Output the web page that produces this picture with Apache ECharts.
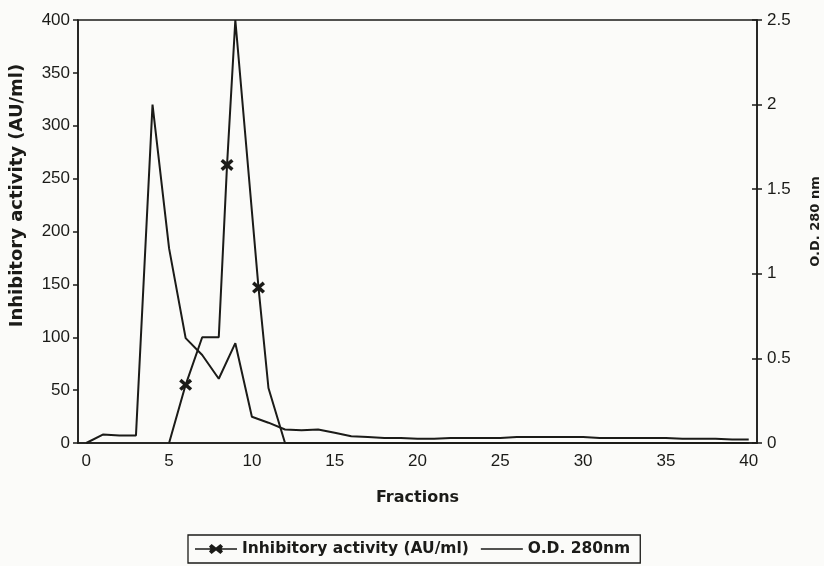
<!DOCTYPE html>
<html>
<head>
<meta charset="utf-8">
<script src="https://cdn.jsdelivr.net/npm/echarts@6/dist/echarts.min.js"></script>
<style>
html,body{margin:0;padding:0;background:#fbfbf9;overflow:hidden;}
#chart{width:824px;height:566px;}
</style>
</head>
<body>
<div id="chart"></div>
<script>
// X-axis categories (fractions)
var fractionLabels = ['0','1','2','3','4','5','6','7','8','9','10','11','12','13','14','15','16','17','18','19','20',
  '21','22','23','24','25','26','27','28','29','30','31','32','33','34','35','36','37','38','39','40'];
// O.D. 280 nm, one value per fraction 0..40
var odValues = [0, 0.05, 0.045, 0.045, 2.0, 1.15, 0.62, 0.52, 0.38, 0.59, 0.155, 0.12, 0.08, 0.075, 0.08, 0.06, 0.04,
  0.035, 0.03, 0.03, 0.025, 0.025, 0.03, 0.03, 0.03, 0.03, 0.035, 0.035, 0.035, 0.035, 0.035,
  0.03, 0.03, 0.03, 0.03, 0.03, 0.025, 0.025, 0.025, 0.02, 0.02];
// Inhibitory activity (AU/ml)
var inhibFractions = [5, 6, 7, 8, 8.5, 9, 10.4, 11, 12, 40];
var inhibValues    = [0, 55, 100, 100, 263, 400, 147, 52, 0, 0];
var inhibMarkerFractions = [6, 8.5, 10.4];
// Axis ticks
var leftTicks = {min: 0, max: 400, interval: 50};
var rightTicks = {min: 0, max: 2.5, interval: 0.5};

var odData = odValues.map(function (v, i) { return [Number(fractionLabels[i]), v]; });
var inhibData = inhibValues.map(function (v, i) { return [inhibFractions[i], v]; });

var xPath = 'path://M1.8,0 L5,3 L8.2,0 L10,2.2 L7,5 L10,7.8 L8.2,10 L5,7 L1.8,10 L0,7.8 L3,5 L0,2.2 Z';
var ink = '#1b1b18';
var font = 'Liberation Sans, Arial, sans-serif';
var bfont = 'DejaVu Sans, sans-serif';

var chart = echarts.init(document.getElementById('chart'), null, {renderer: 'canvas', width: 824, height: 566});
chart.setOption({
  backgroundColor: '#fbfbf9',
  animation: false,
  grid: {left: 78, right: 67, top: 20, bottom: 123, containLabel: false, outerBoundsMode: 'none',
    show: true, borderColor: ink, borderWidth: 1.5, backgroundColor: 'transparent'},
  legend: {
    left: 188, top: 535,
    padding: [6, 10, 6, 7],
    borderColor: ink, borderWidth: 1.3,
    itemWidth: 42, itemHeight: 14, itemGap: 12,
    textStyle: {fontFamily: bfont, fontWeight: 'bold', fontSize: 15.5, color: ink},
    data: [
      {name: 'Inhibitory activity (AU/ml)', icon: 'path://M0,4.2 L15.3,4.2 L14,2.4 L16.6,0 L21,3.6 L25.4,0 L28,2.4 L26.7,4.2 L42,4.2 L42,5.8 L26.7,5.8 L28,7.6 L25.4,10 L21,6.4 L16.6,10 L14,7.6 L15.3,5.8 L0,5.8 Z'},
      {name: 'O.D. 280nm', icon: 'path://M0,4.2 L42,4.2 L42,5.8 L0,5.8 Z M0,0 L0,0.001 Z M42,10 L42,10.001 Z'}
    ]
  },
  xAxis: [{
    type: 'category',
    data: fractionLabels,
    boundaryGap: true,
    position: 'bottom',
    name: 'Fractions',
    nameLocation: 'middle',
    nameGap: 47,
    nameTextStyle: {fontFamily: bfont, fontWeight: 'bold', fontSize: 16, color: ink},
    axisLine: {onZero: false, lineStyle: {color: ink, width: 1.5}},
    axisTick: {interval: 4, length: 5, lineStyle: {color: ink, width: 1.5}},
    axisLabel: {interval: 4, margin: 10, fontFamily: font, fontSize: 17, color: ink},
    splitLine: {show: false}
  }, {
    type: 'value',
    min: -0.5, max: 40.5,
    show: false
  }],
  yAxis: [{
    type: 'value',
    position: 'left',
    min: leftTicks.min, max: leftTicks.max, interval: leftTicks.interval,
    name: 'Inhibitory activity (AU/ml)',
    nameLocation: 'middle',
    nameRotate: 90,
    nameGap: 52,
    nameTextStyle: {fontFamily: bfont, fontWeight: 'bold', fontSize: 18, color: ink, padding: [0, 0, 0, 72]},
    axisLine: {show: true, onZero: false, lineStyle: {color: ink, width: 1.5}},
    axisTick: {show: true, length: 5, lineStyle: {color: ink, width: 1.5}},
    axisLabel: {margin: 8, fontFamily: font, fontSize: 17, color: ink},
    splitLine: {show: false}
  }, {
    type: 'value',
    position: 'right',
    min: rightTicks.min, max: rightTicks.max, interval: rightTicks.interval,
    name: 'O.D. 280 nm',
    nameLocation: 'middle',
    nameRotate: 90,
    nameGap: 52,
    nameTextStyle: {fontFamily: bfont, fontWeight: 'bold', fontSize: 13, color: ink, padding: [0, 0, 0, 20]},
    axisLine: {show: true, onZero: false, lineStyle: {color: ink, width: 1.5}},
    axisTick: {show: true, length: 5, lineStyle: {color: ink, width: 1.5}},
    axisLabel: {margin: 10, fontFamily: font, fontSize: 17, color: ink},
    splitLine: {show: false}
  }, {
    type: 'value',
    position: 'right',
    min: rightTicks.min, max: rightTicks.max, interval: rightTicks.interval,
    axisLine: {show: false, onZero: false},
    axisTick: {show: true, inside: true, length: 5, lineStyle: {color: ink, width: 1.5}},
    axisLabel: {show: false},
    splitLine: {show: false}
  }],
  series: [{
    name: 'Inhibitory activity (AU/ml)',
    type: 'line',
    xAxisIndex: 1, yAxisIndex: 0,
    data: inhibData,
    symbol: xPath,
    symbolSize: function (val) { return inhibMarkerFractions.indexOf(val[0]) >= 0 ? [13, 12] : 0; },
    showAllSymbol: true,
    itemStyle: {color: ink},
    lineStyle: {color: ink, width: 2},
    z: 3
  }, {
    name: 'O.D. 280nm',
    type: 'line',
    xAxisIndex: 1, yAxisIndex: 1,
    data: odData,
    symbol: 'none',
    itemStyle: {color: ink},
    lineStyle: {color: ink, width: 2},
    z: 2
  }]
});
</script>
</body>
</html>
